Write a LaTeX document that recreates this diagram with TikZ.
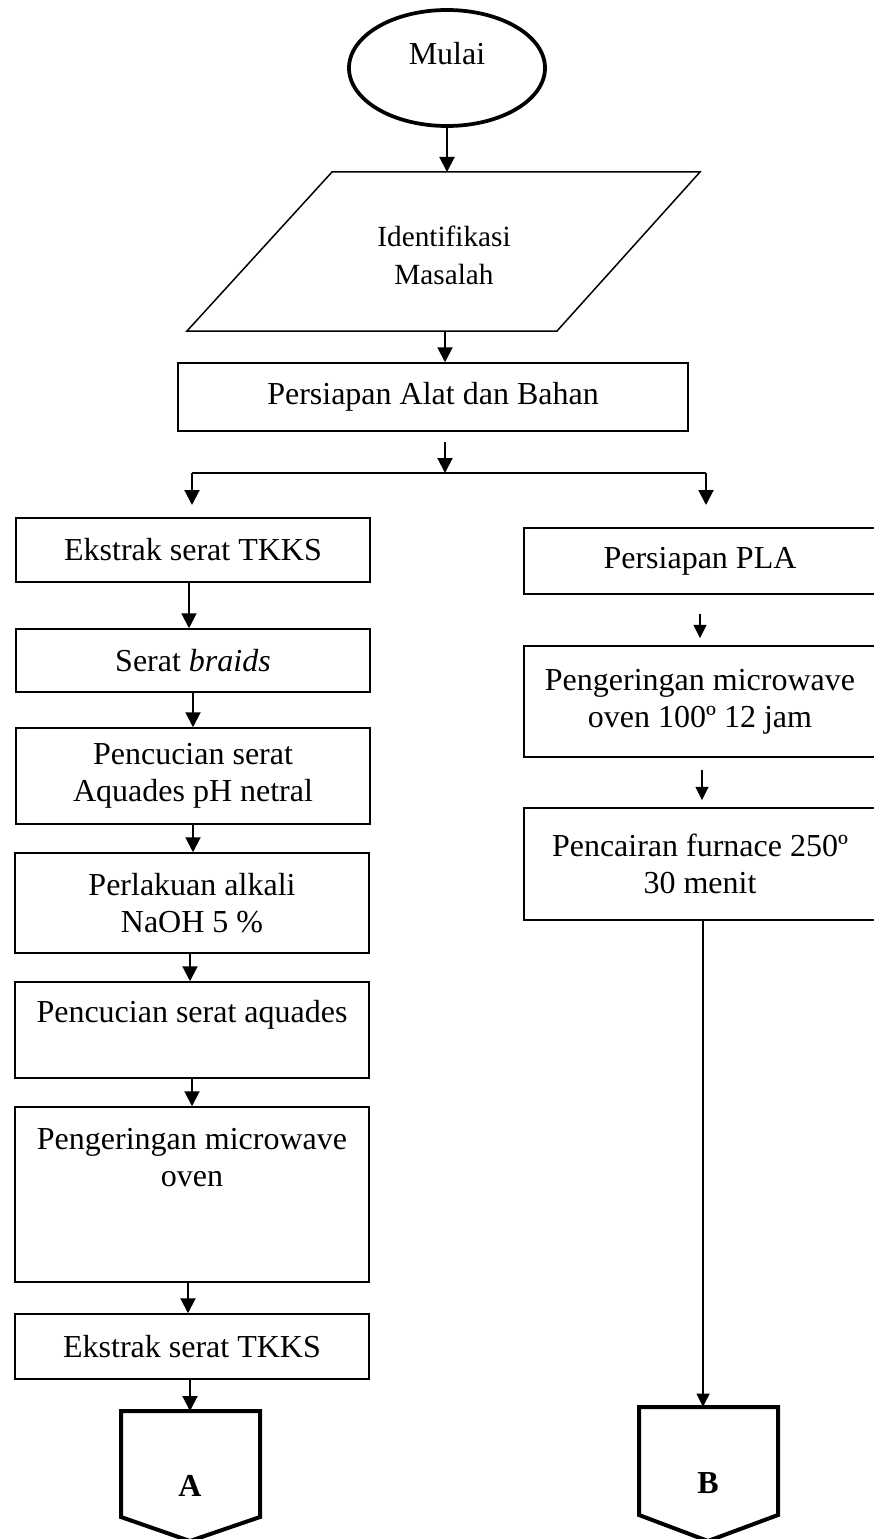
\documentclass[tikz,border=0pt]{standalone}
\usepackage{fontspec}
\setmainfont{Liberation Serif}
\usetikzlibrary{shapes.geometric,arrows.meta}
\tikzset{
  mainfont/.style={font=\fontsize{12.8pt}{14.8pt}\selectfont},
  boxnode/.style={draw, line width=0.6pt, inner sep=0pt, align=center, mainfont},
  lbox/.style={boxnode, minimum width=141.6pt},
  rbox/.style={boxnode, minimum width=140.8pt},
  arr/.style={line width=0.8pt, -{Triangle[width=6pt,length=6pt]}},
  arrs/.style={line width=0.7pt, -{Triangle[width=5.2pt,length=5.4pt]}},
  plain/.style={line width=0.8pt},
  thickshape/.style={line width=1.6pt, line join=miter},
}
\begin{document}
\begin{tikzpicture}[x=0.4pt,y=-0.4pt]
\useasboundingbox (0,0) rectangle (873,1539);

% start
\node[ellipse, draw, line width=1.5pt, minimum width=78.4pt, minimum height=46.4pt, inner sep=0pt] (start) at (447,68) {};
\node[mainfont] (mulai) at (447,54) {Mulai};

% parallelogram
\draw[line width=0.6pt] (332,172) -- (700,172) -- (557,331) -- (187,331) -- cycle;
\coordinate (ptop) at (447,172);
\coordinate (pbot) at (445,331);
\node[align=center, font=\fontsize{11.7pt}{15.2pt}\selectfont] (ident) at (444,255) {Identifikasi\\Masalah};

% preparation box
\node[boxnode, minimum width=204pt, minimum height=27.2pt] (alat) at (433,397) {Persiapan Alat dan Bahan};

% split
\coordinate (sp0) at (445,442);
\coordinate (spm) at (445,473);
\coordinate (spL) at (192,473);
\coordinate (spR) at (706,473);
\coordinate (spLe) at (192,505);
\coordinate (spRe) at (706,505);

% left column
\node[lbox, minimum height=25.6pt] (ek1) at (193,550) {Ekstrak serat TKKS};
\node[lbox, minimum height=25.2pt] (braids) at (193,660.5) {Serat \textit{braids}};
\node[lbox, minimum height=38.4pt] (cuci) at (193,776) {Pencucian serat\\Aquades pH netral};
\node[lbox, minimum height=40pt] (alkali) at (192,903) {Perlakuan alkali\\NaOH 5 \%};
\node[lbox, minimum height=38.4pt] (aq) at (192,1030) {Pencucian serat aquades\\~};
\node[lbox, minimum height=70pt] (dry) at (192,1194.5) {Pengeringan microwave\\oven\\~\\~};
\node[lbox, minimum height=26pt] (ek2) at (192,1346.5) {Ekstrak serat TKKS};

% right column
\node[rbox, minimum height=26.4pt] (pla) at (700,561) {Persiapan PLA};
\node[rbox, minimum height=44.4pt] (dryR) at (700,701.5) {Pengeringan microwave\\oven 100º 12 jam};
\node[rbox, minimum height=44.8pt] (melt) at (700,864) {Pencairan furnace 250º\\30 menit};

% off-page connectors
\draw[thickshape] (121,1411) -- (260,1411) -- (260,1517) -- (190,1541) -- (121,1517) -- cycle;
\coordinate (Atop) at (190,1411);
\node[font=\fontsize{12.8pt}{14.8pt}\selectfont\bfseries] (Alab) at (190,1486) {A};
\draw[thickshape] (639,1407) -- (778,1407) -- (778,1515) -- (708,1541) -- (639,1515) -- cycle;
\coordinate (Btop) at (708,1407);
\node[font=\fontsize{12.8pt}{14.8pt}\selectfont\bfseries] (Blab) at (708,1483) {B};

% connectors
\draw[arr] (start.south) -- (ptop);
\draw[arr] (pbot) -- (pbot |- alat.north);
\draw[arr] (sp0) -- (spm);
\draw[plain] (spL) -- (spR);
\draw[arr] (spL) -- (spLe);
\draw[arr] (spR) -- (spRe);

\draw[arr] ([xshift=-1.6pt]ek1.south) -- ([xshift=-1.6pt]braids.north);
\draw[arr] (braids.south) -- (cuci.north);
\draw[arr] (cuci.south) -- (cuci.south |- alkali.north);
\draw[arr] ([xshift=-0.8pt]alkali.south) -- ([xshift=-0.8pt]aq.north);
\draw[arr] (aq.south) -- (dry.north);
\draw[arr] ([xshift=-1.6pt]dry.south) -- ([xshift=-1.6pt]ek2.north);
\draw[arr] (ek2.south -| Atop) -- (Atop);

\draw[arrs, shorten <=7.6pt, shorten >=2.8pt] (pla.south) -- (dryR.north);
\draw[arrs, shorten <=4.8pt, shorten >=2.8pt] ([xshift=0.8pt]dryR.south) -- ([xshift=0.8pt]melt.north);
\draw[arrs] ([xshift=1.2pt]melt.south) -- ([xshift=1.2pt]melt.south |- Btop);
\end{tikzpicture}
\end{document}
